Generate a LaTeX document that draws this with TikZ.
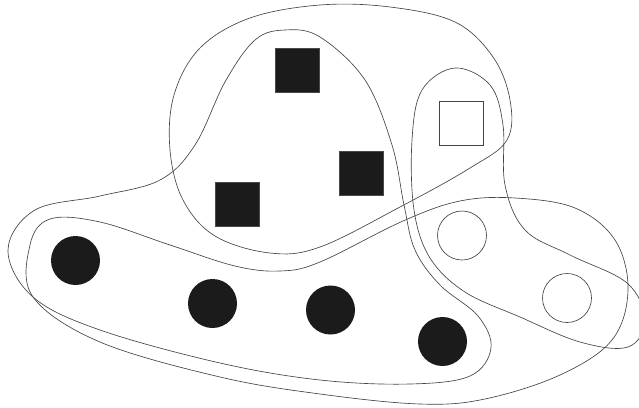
\documentclass[tikz,border=0pt]{standalone}
\usetikzlibrary{shapes.geometric}
\definecolor{ink}{HTML}{1B1B1B}
\definecolor{edge}{HTML}{444444}
\begin{document}
\begin{tikzpicture}[x=1pt,y=-1pt,
  setline/.style={draw=edge,line width=0.65pt},
  blacksq/.style={rectangle,fill=ink,draw=ink!80,line width=0.3pt,minimum size=44pt,inner sep=0pt},
  hollowsq/.style={rectangle,draw=edge,line width=0.65pt,minimum size=44pt,inner sep=0pt},
  blackdot/.style={circle,fill=ink,minimum size=49pt,inner sep=0pt},
  hollowdot/.style={circle,draw=edge,line width=0.65pt,minimum size=49pt,inner sep=0pt}]
\useasboundingbox (0,0) rectangle (639,407);
\fill[white] (0,0) rectangle (639,407);
% squares set
\draw[setline] plot[smooth cycle,tension=0.6] coordinates {
 (320,5) (390,7) (455,22) (493,57) (510,100) (507,140)
 (470,168) (400,207) (320,247) (270,253)
 (215,236) (183,200) (170,150) (174,95) (200,48)
 (250,18)};
% black set
\draw[setline] plot[smooth cycle,tension=0.6] coordinates {
 (8,250) (33,297) (100,330) (220,363) (320,380) (410,384) (470,376)
 (491,348) (478,316) (440,285) (415,250) (404,205)
 (392,145) (365,80) (320,37) (285,30) (255,40) (225,82)
 (195,145) (160,180) (100,196) (35,210)};
% circles set
\draw[setline] plot[smooth cycle,tension=0.6] coordinates {
 (50,219) (100,222) (170,245) (235,266) (280,271) (320,262)
 (403,221) (460,201) (515,198) (575,208) (615,240)
 (628,290) (612,340) (560,375)
 (485,399) (420,404) (320,394) (220,377) (100,342)
 (33,297) (30,245)};
% hollow set
\draw[setline] plot[smooth cycle,tension=0.6] coordinates {
 (455,68) (490,85) (503,125) (505,185)
 (525,230) (570,255) (627,283) (645,320)
 (628,347) (580,342) (520,317) (465,292) (430,258)
 (414,210) (412,140) (422,90)};
% elements
\node[blacksq] (s1) at (297,70) {};
\node[blacksq] (s2) at (237.5,204.5) {};
\node[blacksq] (s3) at (361.5,173.5) {};
\node[hollowsq] (s4) at (461.5,123.5) {};
\node[blackdot] (c1) at (75.5,260.5) {};
\node[blackdot] (c2) at (212.5,303.5) {};
\node[blackdot] (c3) at (330.5,310) {};
\node[blackdot] (c4) at (442.5,341.5) {};
\node[hollowdot] (c5) at (462,235.5) {};
\node[hollowdot] (c6) at (567,298) {};
\end{tikzpicture}
\end{document}
